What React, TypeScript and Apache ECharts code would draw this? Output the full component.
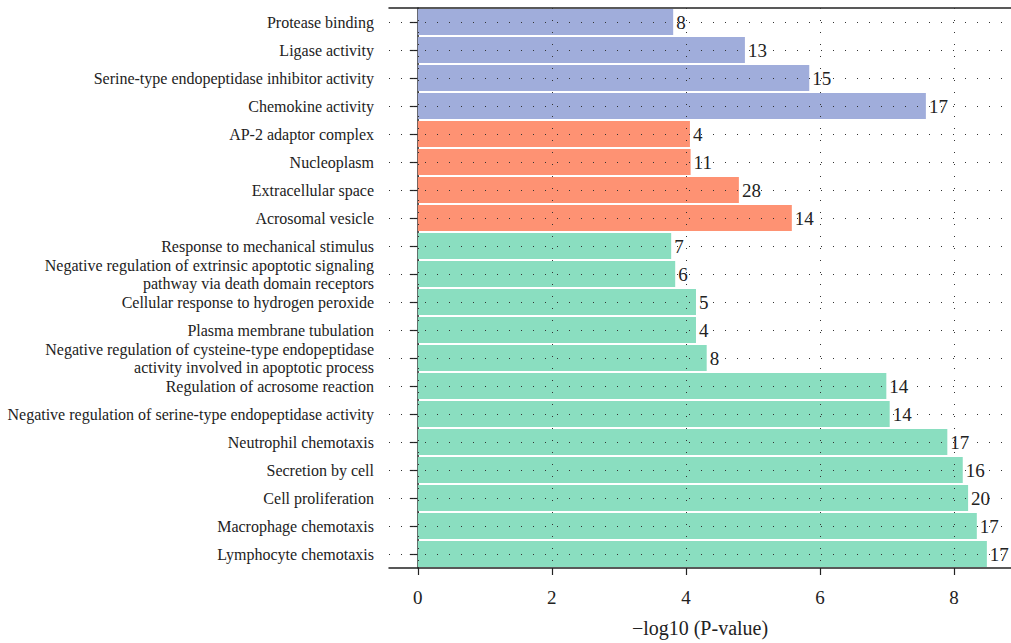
import React, { useEffect, useRef } from "react";
import * as echarts from "echarts";

const categories = [
  "Protease binding",
  "Ligase activity",
  "Serine-type endopeptidase inhibitor activity",
  "Chemokine activity",
  "AP-2 adaptor complex",
  "Nucleoplasm",
  "Extracellular space",
  "Acrosomal vesicle",
  "Response to mechanical stimulus",
  "Negative regulation of extrinsic apoptotic signaling\npathway via death domain receptors",
  "Cellular response to hydrogen peroxide",
  "Plasma membrane tubulation",
  "Negative regulation of cysteine-type endopeptidase\nactivity involved in apoptotic process",
  "Regulation of acrosome reaction",
  "Negative regulation of serine-type endopeptidase activity",
  "Neutrophil chemotaxis",
  "Secretion by cell",
  "Cell proliferation",
  "Macrophage chemotaxis",
  "Lymphocyte chemotaxis",
];

const logP = [3.81, 4.88, 5.84, 7.58, 4.06, 4.07, 4.79, 5.58, 3.78, 3.84, 4.15, 4.15, 4.31, 6.99, 7.04, 7.9, 8.13, 8.21, 8.34, 8.49];
const counts = [8, 13, 15, 17, 4, 11, 28, 14, 7, 6, 5, 4, 8, 14, 14, 17, 16, 20, 17, 17];
const groups = ["MF", "MF", "MF", "MF", "CC", "CC", "CC", "CC", "BP", "BP", "BP", "BP", "BP", "BP", "BP", "BP", "BP", "BP", "BP", "BP"];
const groupColors: Record<string, string> = { MF: "#A0ADDB", CC: "#FE9273", BP: "#8ADEC0" };
const xTicks = [0, 2, 4, 6, 8];

const FONT = "Liberation Serif";

export default function App() {
  const ref = useRef<HTMLDivElement>(null);
  useEffect(() => {
    if (!ref.current) return;
    const chart = echarts.init(ref.current, null, { renderer: "svg" });
    const dotted = { color: "#333", width: 1, type: [1, 11] as any };
    chart.setOption({
      animation: false,
      grid: { left: 389, right: 0, top: 8, bottom: 73, containLabel: false },
      xAxis: [
        {
          type: "value",
          min: -0.43,
          max: 8.85,
          name: "\u2212log10 (P-value)",
          nameLocation: "middle",
          nameGap: 50,
          nameTextStyle: { fontFamily: FONT, fontSize: 20, color: "#222" },
          axisLine: { show: true, lineStyle: { color: "#222", width: 1.5 } },
          axisTick: { show: true, length: 7, customValues: xTicks, lineStyle: { color: "#222", width: 1.2 } },
          axisLabel: { customValues: xTicks, fontFamily: FONT, fontSize: 19, color: "#222", margin: 20 },
          splitLine: { show: false },
        },
        {
          type: "value",
          position: "top",
          min: -0.43,
          max: 8.85,
          axisLine: { show: true, onZero: false, lineStyle: { color: "#222", width: 1.5 } },
          axisTick: { show: false },
          axisLabel: { show: false },
          splitLine: { show: false },
        },
      ],
      yAxis: {
        type: "category",
        data: categories,
        inverse: true,
        axisLine: { show: true, lineStyle: { color: "#222", width: 1.5 } },
        axisTick: { show: true, length: 8, alignWithLabel: true, lineStyle: { color: "#222", width: 1.2 } },
        axisLabel: { fontFamily: FONT, fontSize: 16, color: "#222", margin: 15, lineHeight: 18 },
        splitLine: { show: false },
      },
      series: [
        {
          type: "line",
          data: [],
          z: 1,
          silent: true,
          markLine: {
            silent: true,
            symbol: "none",
            label: { show: false },
            lineStyle: dotted,
            data: [
              ...categories.map((c) => ({ yAxis: c })),
              ...xTicks.map((v) => ({ xAxis: v })),
            ],
          },
        },
        {
          type: "bar",
          z: 3,
          barCategoryGap: "7%",
          data: logP.map((v, i) => ({
            value: v,
            itemStyle: { color: groupColors[groups[i]] },
            label: { formatter: String(counts[i]) },
          })),
          label: {
            show: true,
            position: "right",
            distance: 3,
            fontFamily: FONT,
            fontSize: 19,
            color: "#222",
          },
        },
      ],
    });
    return () => chart.dispose();
  }, []);
  return <div ref={ref} style={{ width: 1011, height: 643, position: "absolute", left: 0, top: 0 }} />;
}
